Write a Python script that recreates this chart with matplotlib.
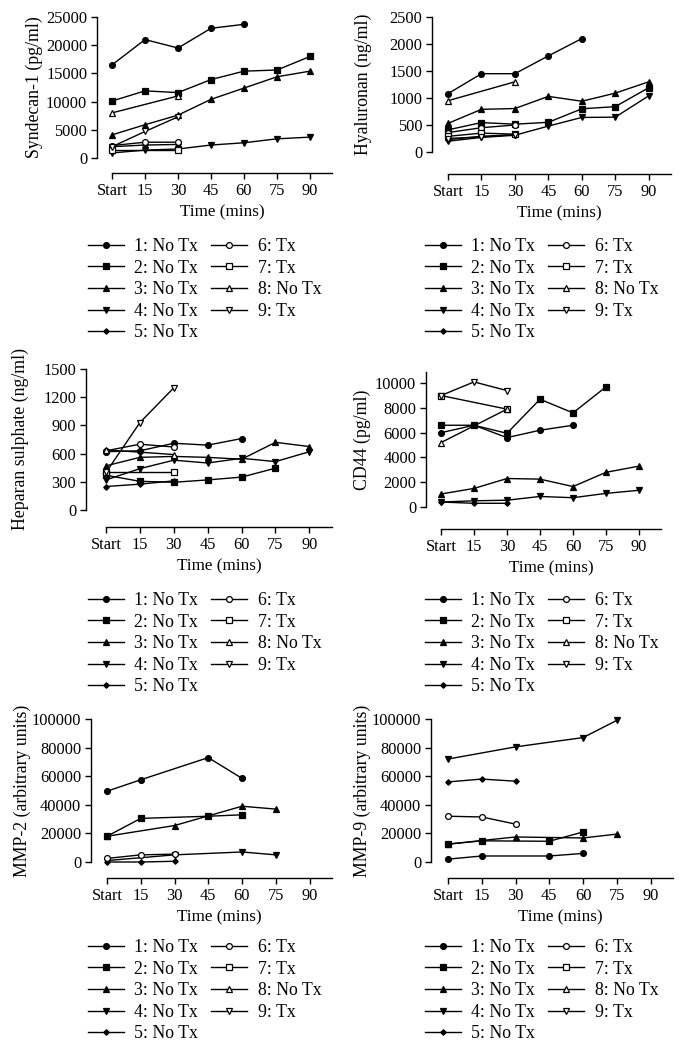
import numpy as np
import matplotlib
matplotlib.use('Agg')
import matplotlib.pyplot as plt
from matplotlib.lines import Line2D

nan = np.nan

times = [0, 15, 30, 45, 60, 75, 90]
time_labels = ['Start', '15', '30', '45', '60', '75', '90']
series_names = ['1: No Tx', '2: No Tx', '3: No Tx', '4: No Tx', '5: No Tx',
                '6: Tx', '7: Tx', '8: No Tx', '9: Tx']

# values per patient, at Start, 15, 30, 45, 60, 75, 90 mins
syndecan = {
    1: [16500, 21000, 19500, 23000, 23700],
    2: [10100, 11900, 11600, 13900, 15400, 15600, 18000],
    3: [4100, 5900, 7600, 10400, 12400, 14400, 15400],
    4: [900, 1400, 1600, 2300, 2700, 3400, 3700],
    5: [2000, 2300, 2400],
    6: [2200, 2800, 2800],
    7: [1500, nan, 1500],
    8: [8000, nan, 11000],
    9: [2000, 4700, 7300],
}
hyaluronan = {
    1: [1080, 1450, 1450, 1780, 2100],
    2: [410, 545, 515, 550, 800, 840, 1190],
    3: [530, 790, 805, 1030, 940, 1090, 1300],
    4: [200, 270, 310, 480, 640, 645, 1040],
    5: [230, 290, 320],
    6: [360, 450, 500],
    7: [290, 350, 330],
    8: [950, nan, 1300],
    9: [250, 280, 320],
}
heparan = {
    1: [620, 630, 710, 690, 760],
    2: [370, 305, 295, 320, 350, 445],
    3: [470, 560, 570, 560, 540, 720, 675],
    4: [320, 440, 530, 500, 550, 515, 620],
    5: [250, 275, 310],
    6: [630, 700, 670],
    7: [400, nan, 400],
    8: [640, nan, 590],
    9: [400, 930, 1300],
}
cd44 = {
    1: [6000, 6600, 5600, 6200, 6600],
    2: [6600, 6600, 5950, 8700, 7600, 9700],
    3: [1050, 1500, 2300, 2250, 1650, 2800, 3300],
    4: [400, 500, 550, 850, 750, 1100, 1350],
    5: [400, 300, 300],
    7: [9000, nan, 7900],
    8: [5200, nan, 7900],
    9: [9000, 10100, 9400],
}
mmp2 = {
    1: [49500, 57500, nan, 73000, 58500],
    2: [18000, 30500, nan, 32000, 33000],
    3: [18000, nan, 25500, nan, 39000, 37000],
    4: [1000, nan, 5000, nan, 7000, 5000],
    5: [0, 0, 500],
    6: [2500, 5000, 5500],
}
mmp9 = {
    1: [2000, 4200, nan, 4200, 6000],
    2: [12500, 14800, nan, 14500, 21000],
    3: [12500, nan, 17500, nan, 16800, 19500],
    4: [72000, nan, 80500, nan, 87000, 99000],
    5: [56000, 58000, 56500],
    6: [32000, 31500, 26500],
}

markers = ['o', 's', '^', 'v', 'D', 'o', 's', '^', 'v']
msizes = [4.2, 4.2, 4.6, 4.6, 2.8, 4.2, 4.2, 4.6, 4.6]

plt.rcParams['font.family'] = ['Liberation Serif', 'DejaVu Serif']
plt.rcParams['font.size'] = 11

W, H = 685, 1044
fig = plt.figure(figsize=(W / 100, H / 100), dpi=100)


def style(k):
    i = k - 1
    return dict(marker=markers[i], ms=msizes[i], color='black', lw=1,
                mfc='black' if k <= 5 else 'white', mec='black', mew=0.9)


# (data, ylabel, yticks, ytop, [left, right, y0, ytop px], left offset, bottom offset,
#  ylabel x, legend x, legend top)
panels = [
    (syndecan, 'Syndecan-1 (pg/ml)', [0, 5000, 10000, 15000, 20000, 25000], 25000,
     [112, 332, 158, 17], 15, 15, 34, 88, 238),
    (hyaluronan, 'Hyaluronan (ng/ml)', [0, 500, 1000, 1500, 2000, 2500], 2500,
     [448, 671, 152, 17], 16, 22, 363, 425, 238),
    (heparan, 'Heparan sulphate (ng/ml)', [0, 300, 600, 900, 1200, 1500], 1500,
     [106, 332, 510, 369], 20, 17, 20, 88, 592),
    (cd44, 'CD44 (pg/ml)', [0, 2000, 4000, 6000, 8000, 10000], 10900,
     [441, 661, 507, 372], 15, 22, 362, 425, 592),
    (mmp2, 'MMP-2 (arbitrary units)', [0, 20000, 40000, 60000, 80000, 100000], 100000,
     [107, 332, 862, 719], 16, 16, 22, 88, 939),
    (mmp9, 'MMP-9 (arbitrary units)', [0, 20000, 40000, 60000, 80000, 100000], 100000,
     [448, 673, 862, 719], 17, 16, 362, 425, 939),
]

for data, ylabel, yticks, ytop, box, loff, boff, ylx, lx, ly in panels:
    l, r, y0, yt = box
    ax = fig.add_axes([l / W, 1 - y0 / H, (r - l) / W, (y0 - yt) / H])
    for k, vals in data.items():
        y = np.array(vals, dtype=float)
        x = np.array(times[:len(y)], dtype=float)
        m = ~np.isnan(y)
        ax.plot(x[m], y[m], clip_on=False, zorder=3, **style(k))
    ax.set_xlim(0, 100)
    ax.set_ylim(0, ytop)
    ax.set_xticks(times)
    ax.set_xticklabels(time_labels)
    ax.set_yticks(yticks)
    ax.spines['top'].set_visible(False)
    ax.spines['right'].set_visible(False)
    ax.spines['left'].set_position(('outward', loff * 0.72))
    ax.spines['bottom'].set_position(('outward', boff * 0.72))
    ax.spines['bottom'].set_bounds(0, 100)
    ax.spines['left'].set_bounds(0, ytop)
    for s in ('left', 'bottom'):
        ax.spines[s].set_linewidth(1)
    ax.tick_params(length=4, width=1, pad=3, labelsize=11.8)
    ax.set_xlabel('Time (mins)', fontsize=12.3, labelpad=4)
    ax.set_ylabel(ylabel, fontsize=12.8, va='center')
    ax.yaxis.set_label_coords(ylx / W, 1 - (y0 + yt) / 2 / H, transform=fig.transFigure)

    handles = [Line2D([], [], **style(k)) for k in range(1, 10)]
    fig.legend(handles, series_names, loc='upper left', ncol=2,
               bbox_to_anchor=(lx / W, 1 - ly / H), frameon=False,
               borderpad=0, borderaxespad=0, handlelength=2.0,
               handletextpad=0.6, columnspacing=0.75, labelspacing=0.26,
               fontsize=12.8)

fig.savefig('out.png', dpi=100)
